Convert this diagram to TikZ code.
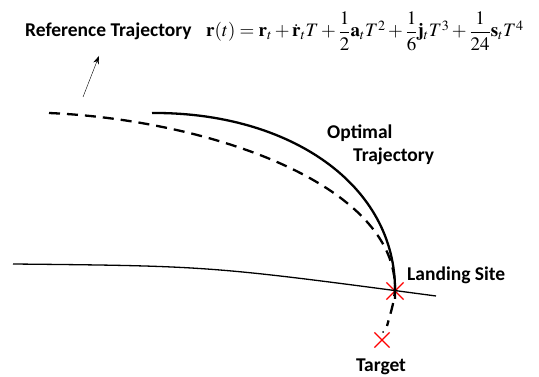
\documentclass[tikz,border=0pt]{standalone}
\usepackage{amsmath}
\usepackage{mathptmx}
\usepackage[no-math]{fontspec}
\newfontfamily\calibri{Carlito}
\usetikzlibrary{positioning,calc,arrows.meta,shapes.misc}

\begin{document}
\begin{tikzpicture}[x=1pt, y=-1pt, >={Stealth[length=8pt,width=6pt]},
  label/.style = {font=\calibri\bfseries\fontsize{19.5}{22}\selectfont, inner sep=0pt},
  xmark/.style = {cross out, draw=red, line width=1.2pt, minimum size=16pt, inner sep=0pt},
  reftraj/.style = {line width=2.3pt, dash pattern=on 11pt off 7pt},
  opttraj/.style = {line width=2.3pt}]
\useasboundingbox (0,0) rectangle (539,377);

\node[label, anchor=base west] (ref) at (25,37) {Reference Trajectory};
\node[anchor=base west, inner sep=0pt, font=\fontsize{19}{22}\selectfont] (eq) at (206,37)
  {$\mathbf{r}(t)=\mathbf{r}_t+\dot{\mathbf{r}}_tT+\dfrac{1}{2}\mathbf{a}_tT^2+\dfrac{1}{6}\mathbf{j}_tT^3+\dfrac{1}{24}\mathbf{s}_tT^4$};
\node[label, anchor=base west] (opt) at (327,139) {Optimal};
\node[label, anchor=base west] (opt2) at (353,162) {Trajectory};
\node[label, anchor=base west] (site) at (407,280) {Landing Site};
\node[label, anchor=base] (tgt) at (381,371) {Target};

\node[xmark] (land) at (395,291) {};
\node[xmark, minimum size=14pt] (goal) at (382,340) {};

\coordinate (tail) at (83,97);
\coordinate (tip) at (99,56);
\coordinate (refstart) at (49,113);
\coordinate (optstart) at (152,113);
\coordinate (gl) at (13,264);
\coordinate (gr) at (436,296);
\fill (383,332) circle (1pt);

%ground
\draw[line width=1.3pt] (gl) .. controls (210,266) .. (gr);
\draw[->, thin] (tail) -- (tip);

\draw[reftraj] (refstart) .. controls (210,120) and (398,185) .. (land.center)
  .. controls (393,305) .. (387,326);
\draw[opttraj] (optstart) .. controls (290,112) and (396,185) .. (land.center) -- +(0,8);
\end{tikzpicture}
\end{document}
